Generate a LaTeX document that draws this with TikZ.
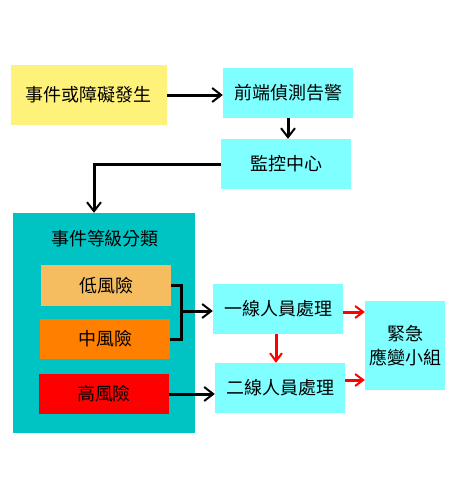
\documentclass[tikz,border=0pt]{standalone}
\usepackage{fontspec}
\newfontfamily\cjk{Noto Sans CJK TC}
\usepackage{tikz}
\usetikzlibrary{arrows.meta,positioning,calc}
\definecolor{evyellow}{HTML}{FFF27A}
\definecolor{boxcyan}{HTML}{7FFFFF}
\definecolor{clsteal}{HTML}{00C4C4}
\definecolor{lowrisk}{HTML}{F6BD60}
\definecolor{midrisk}{HTML}{FF8000}
\definecolor{highrisk}{HTML}{FF0000}

\begin{document}
\begin{tikzpicture}[
    x=1pt, y=-1pt,
    box/.style={minimum width=130pt, minimum height=50pt, align=center, inner sep=0pt, font=\cjk\fontsize{18}{24}\selectfont, fill=boxcyan},
    risk/.style={minimum width=130pt, minimum height=40pt, inner sep=0pt, font=\cjk\fontsize{18}{24}\selectfont},
    arr/.style={-{Straight Barb[length=9pt, width=14pt, line width=2pt]}, line width=3pt},
    redarr/.style={-{Straight Barb[length=8pt, width=12pt, line width=2pt]}, line width=3pt, red}
]
\useasboundingbox (0,0) rectangle (457,480);

\node[box, fill=evyellow, minimum width=156pt, minimum height=60pt] (ev) at (89,95) {事件或障礙發生};
\node[box] (det) at (288,93) {前端偵測告警};
\node[box] (mon) at (286,164) {監控中心};

% classification block
\node[fill=clsteal, minimum width=182pt, minimum height=220pt, inner sep=0pt] (cls) at (104,323) {};
\node[font=\cjk\fontsize{18}{24}\selectfont] (title) at (105,239) {事件等級分類};
\node[risk, fill=lowrisk, minimum height=41pt] (low) at (106,285.5) {低風險};
\node[risk, fill=midrisk] (mid) at (105,339) {中風險};
\node[risk, fill=highrisk] (high) at (104,394) {高風險};

\node[box] (l1) at (278,309) {一線人員處理};
\node[box] (l2) at (280,388) {二線人員處理};
\node[box, minimum width=80pt, minimum height=89pt] (emg) at (405,345.5) {緊急\\應變小組};

\coordinate (brk) at (181,311);

\draw[arr] (ev) -- (ev -| det.west);
\draw[arr] (det.south) -- (det.south |- mon.north);
\draw[arr] (mon.west) -| ([xshift=-10pt]cls.north);
\draw[line width=3pt] (low.east) -| (brk) |- (mid.east);
\draw[arr] (brk) -- (brk -| l1.west);
\draw[arr] (high.east) -- (high.east -| l2.west);
\draw[redarr] ([yshift=-3pt]l1.east) -- ([yshift=-3pt]l1.east -| emg.west);
\draw[redarr] ([xshift=-2pt]l1.south) -- ([xshift=-2pt]l1.south |- l2.north);
\draw[redarr] ([yshift=8pt]l2.east) -- ([yshift=8pt]l2.east -| emg.west);
\end{tikzpicture}
\end{document}
